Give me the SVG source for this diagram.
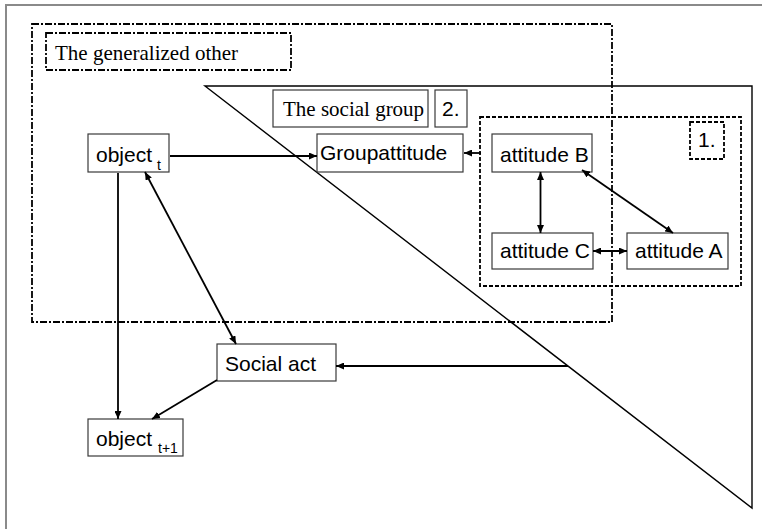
<svg xmlns="http://www.w3.org/2000/svg" width="762" height="529" viewBox="0 0 762 529">
  <defs>
    <marker id="arrow" viewBox="0 0 8 7" refX="8" refY="3.5" markerWidth="8" markerHeight="7" markerUnits="userSpaceOnUse" orient="auto-start-reverse">
      <path d="M0,0 L8,3.5 L0,7 z" fill="#000"/>
    </marker>
    <style>
      .frame { stroke: #8a8a8a; stroke-width: 2; fill: none; }
      .box { fill: #fff; stroke: #3a3a3a; stroke-width: 1.2; }
      .region { fill: none; stroke: #000; stroke-width: 1.8; stroke-dasharray: 7 2 2 2; }
      .dashed { fill: none; stroke: #000; stroke-width: 1.8; stroke-dasharray: 4 2; }
      .tri { fill: none; stroke: #000; stroke-width: 1.4; }
      .conn { stroke: #000; stroke-width: 1.8; fill: none; }
      .serif { font-family: "Liberation Serif", "Times New Roman", serif; font-size: 21px; fill: #000; }
      .sans { font-family: "Liberation Sans", Arial, sans-serif; font-size: 21px; fill: #000; }
      .sub { font-family: "Liberation Sans", Arial, sans-serif; font-size: 14px; fill: #000; }
    </style>
  </defs>

  <rect width="762" height="529" fill="#fff"/>

  <!-- page frame (top and left edges) -->
  <path class="frame" d="M6,529 V5 H762"/>

  <!-- the generalized other region -->
  <g id="generalized-other">
    <rect class="region" x="32" y="24" width="580" height="298"/>
    <rect class="region" x="46" y="33" width="245" height="37" stroke-width="1.6"/>
    <text class="serif" x="55" y="60">The generalized other</text>
  </g>

  <!-- the social group triangle -->
  <g id="social-group">
    <path class="tri" d="M205,86 H752 V508 Z"/>
    <rect class="box" x="273" y="90" width="155" height="37"/>
    <text class="serif" x="283" y="116">The social group</text>
    <rect class="box" x="435" y="90" width="32" height="37"/>
    <text class="sans" x="442" y="116">2.</text>
  </g>

  <!-- attitude cluster -->
  <g id="cluster-1">
    <rect class="dashed" x="480" y="117" width="261" height="169"/>
    <rect class="dashed" x="690" y="122" width="34" height="37"/>
    <text class="sans" x="698" y="147">1.</text>
  </g>

  <g id="groupattitude">
    <rect class="box" x="317" y="134" width="146" height="38"/>
    <text class="sans" x="320" y="160">Groupattitude</text>
  </g>

  <g id="attitude-b">
    <rect class="box" x="492" y="134" width="100" height="38"/>
    <text class="sans" x="500" y="162">attitude B</text>
  </g>

  <g id="attitude-c">
    <rect class="box" x="492" y="233" width="101" height="36"/>
    <text class="sans" x="500" y="258">attitude C</text>
  </g>

  <g id="attitude-a">
    <rect class="box" x="627" y="233" width="101" height="36"/>
    <text class="sans" x="635" y="258">attitude A</text>
  </g>

  <g id="object-t">
    <rect class="box" x="88" y="134" width="81" height="38"/>
    <text class="sans" x="96" y="162">object</text>
    <text class="sub" x="157" y="170">t</text>
  </g>

  <g id="social-act">
    <rect class="box" x="217" y="344" width="119" height="37"/>
    <text class="sans" x="225" y="371">Social act</text>
  </g>

  <g id="object-t1">
    <rect class="box" x="88" y="419" width="95" height="37"/>
    <text class="sans" x="96" y="446">object</text>
    <text class="sub" x="158" y="453">t+1</text>
  </g>

  <!-- connectors -->
  <g id="connectors">
    <line class="conn" x1="170" y1="156" x2="317" y2="156" marker-end="url(#arrow)"/>
    <line class="conn" x1="481" y1="153" x2="464" y2="153" stroke-width="2.4" marker-end="url(#arrow)"/>
    <line class="conn" x1="540.5" y1="172" x2="540.5" y2="233" marker-start="url(#arrow)" marker-end="url(#arrow)"/>
    <line class="conn" x1="582" y1="170" x2="673" y2="233" marker-start="url(#arrow)" marker-end="url(#arrow)"/>
    <line class="conn" x1="593" y1="251" x2="627" y2="251" marker-start="url(#arrow)" marker-end="url(#arrow)"/>
    <line class="conn" x1="145" y1="172" x2="236" y2="344" marker-start="url(#arrow)" marker-end="url(#arrow)"/>
    <line class="conn" x1="118" y1="173" x2="118" y2="419" marker-end="url(#arrow)"/>
    <line class="conn" x1="217" y1="380" x2="152" y2="419" marker-end="url(#arrow)"/>
    <line class="conn" x1="568" y1="366" x2="336" y2="366" marker-end="url(#arrow)"/>
  </g>
</svg>
